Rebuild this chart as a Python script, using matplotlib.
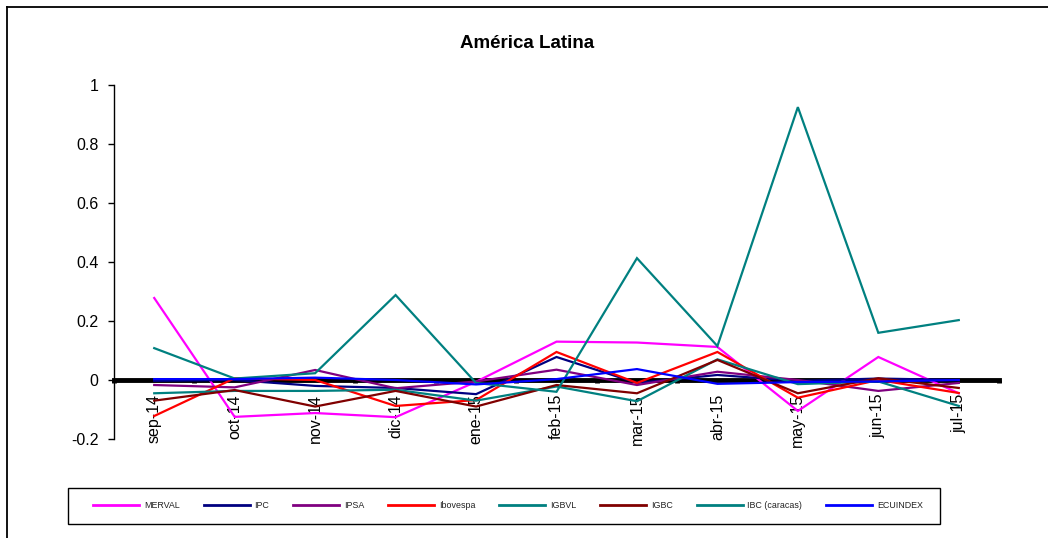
import matplotlib
matplotlib.use("Agg")
import matplotlib.pyplot as plt
from matplotlib.lines import Line2D
from matplotlib.patches import Rectangle

plt.rcParams['font.family'] = ['Liberation Sans', 'DejaVu Sans']

months = ['sep-14', 'oct-14', 'nov-14', 'dic-14', 'ene-15', 'feb-15',
          'mar-15', 'abr-15', 'may-15', 'jun-15', 'jul-15']
merval = [0.278, -0.125, -0.112, -0.126, -0.006, 0.130, 0.127, 0.112, -0.105, 0.078, -0.045]
ipc = [-0.003, 0.000, -0.020, -0.027, -0.048, 0.078, -0.010, 0.017, -0.003, 0.005, 0.000]
ipsa = [-0.017, -0.025, 0.034, -0.028, -0.005, 0.035, -0.017, 0.028, 0.000, -0.037, -0.010]
ibovespa = [-0.122, 0.006, 0.000, -0.088, -0.068, 0.095, -0.010, 0.095, -0.060, 0.000, -0.044]
igbvl = [-0.045, -0.037, -0.037, -0.033, -0.070, -0.022, -0.072, 0.070, -0.014, -0.005, -0.088]
igbc = [-0.070, -0.034, -0.090, -0.037, -0.090, -0.017, -0.045, 0.068, -0.045, 0.006, -0.027]
ibc = [0.108, 0.005, 0.023, 0.288, -0.010, -0.040, 0.413, 0.115, 0.925, 0.160, 0.203]
ecuindex = [0.003, 0.003, 0.008, 0.000, -0.015, 0.003, 0.037, -0.013, -0.007, -0.005, 0.000]

series_names = ['MERVAL', 'IPC', 'IPSA', 'Ibovespa', 'IGBVL', 'IGBC', 'IBC (caracas)', 'ECUINDEX']
series_values = [merval, ipc, ipsa, ibovespa, igbvl, igbc, ibc, ecuindex]
series_colors = ['#FF00FF', '#000080', '#800080', '#FF0000', '#008080', '#800000', '#008080', '#0000FF']

y_ticks = [-0.2, 0, 0.2, 0.4, 0.6, 0.8, 1]
y_tick_labels = ['-0.2', '0', '0.2', '0.4', '0.6', '0.8', '1']

W, H = 1048, 538
fig = plt.figure(figsize=(W / 100, H / 100), dpi=100)

# axes placement in pixels
x0, x1 = 114, 999
yt, yb = 85, 439
ax = fig.add_axes([x0 / W, 1 - yb / H, (x1 - x0) / W, (yb - yt) / H])
ax.set_facecolor('none')

x = list(range(len(months)))
handles = []
for name, vals, col in zip(series_names, series_values, series_colors):
    h, = ax.plot(x, vals, color=col, lw=1.6, label=name, zorder=3, solid_joinstyle='miter')
    handles.append(h)

ax.set_xlim(-0.5, len(months) - 0.5)
ax.set_ylim(-0.2, 1.0)

for s in ['top', 'right']:
    ax.spines[s].set_visible(False)
ax.spines['left'].set_linewidth(1.0)
ax.spines['left'].set_zorder(1)
ax.spines['bottom'].set_position(('data', 0))
ax.spines['bottom'].set_linewidth(3.5)
ax.spines['bottom'].set_zorder(1)

ax.set_yticks(y_ticks)
ax.set_yticklabels(y_tick_labels)
ax.tick_params(axis='y', direction='out', length=4, width=1, pad=7, labelsize=11.5)

ax.set_xticks(x)
ax.set_xticklabels(months, rotation=90, ha='center', va='top')
ax.tick_params(axis='x', which='major', length=0, pad=10, labelsize=11.5)
ax.set_xticks([i - 0.5 for i in range(len(months) + 1)], minor=True)
ax.tick_params(axis='x', which='minor', direction='out', length=2.5, width=3.5)

fig.text(527 / W, 1 - 43 / H, 'América Latina', ha='center', va='center',
         fontsize=13.5, fontweight='bold')

# outer chart frame (left and top visible)
fig.add_artist(Line2D([6.5 / W, 6.5 / W], [0, 1 - 7 / H], color='black', lw=1.3,
                      transform=fig.transFigure))
fig.add_artist(Line2D([6.5 / W, 1], [1 - 7 / H, 1 - 7 / H], color='black', lw=1.3,
                      transform=fig.transFigure))

# legend frame
fig.add_artist(Rectangle((68 / W, 1 - 524 / H), (940 - 68) / W, (524 - 488) / H,
                         transform=fig.transFigure, fill=False, edgecolor='black', lw=1.0))
leg = fig.legend(handles=handles, labels=series_names, loc='center',
                 bbox_to_anchor=(508 / W, 1 - 506 / H), ncol=8, frameon=False,
                 fontsize=6.4, handlelength=5.2, handletextpad=0.5, columnspacing=2.7)
for t in leg.get_texts():
    t.set_color('#222222')
for lh in leg.get_lines():
    lh.set_linewidth(2.0)

fig.savefig('out.png', dpi=100)
